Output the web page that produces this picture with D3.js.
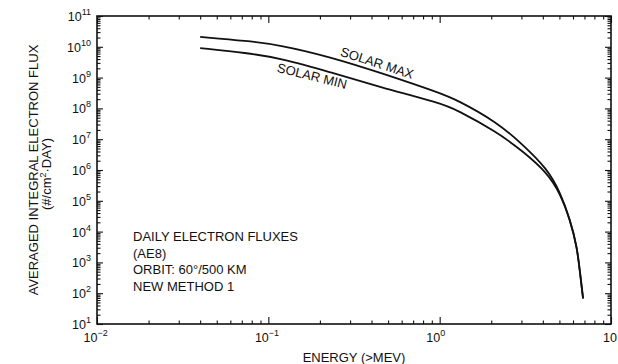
<!DOCTYPE html>
<html>
<head>
<meta charset="utf-8">
<script src="https://cdn.jsdelivr.net/npm/d3@7/dist/d3.min.js"></script>
<style>
  html, body { margin: 0; padding: 0; background: #fff; }
  svg { display: block; }
  text { font-family: "Liberation Sans", Arial, Helvetica, sans-serif; fill: #111; }
</style>
</head>
<body>
<svg id="chart" width="618" height="364"></svg>
<script>
// Integral electron flux (AE8), daily average, 60°/500 km orbit
const energy  = [0.04, 0.075, 0.117, 0.23, 0.45, 1.0, 1.26, 2.16, 3.07, 4.24, 5.05, 5.77, 6.34, 6.6, 6.87];
const fluxMax = [2.1e10, 1.55e10, 1.15e10, 4.7e9, 1.45e9, 3.2e8, 1.9e8, 3.6e7, 6.5e6, 1.1e6, 1.9e5, 2.5e4, 3.2e3, 4.5e2, 70];
const fluxMin = [9.1e9, 6.3e9, 4.3e9, 1.5e9, 4.9e8, 1.5e8, 9.0e7, 1.7e7, 4.0e6, 8.2e5, 1.75e5, 2.4e4, 3.1e3, 4.3e2, 66];

const seriesNames = ["SOLAR MAX", "SOLAR MIN"];
const xTickExps = ["\u22122", "\u22121", "0", ""];
const xTickVals = [1e-2, 1e-1, 1, 10];
const yTickExps = ["1", "2", "3", "4", "5", "6", "7", "8", "9", "10", "11"];
const noteLines = ["DAILY ELECTRON FLUXES", "(AE8)", "ORBIT: 60\u00b0/500 KM", "NEW METHOD 1"];

const svg = d3.select("#chart");
const plotLeft = 97, plotRight = 611, plotTop = 16, plotBottom = 324;

const x = d3.scaleLog().domain([1e-2, 10]).range([plotLeft, plotRight]);
const y = d3.scaleLog().domain([10, 1e11]).range([plotBottom, plotTop]);

// minor tick positions (2..9 in every decade)
const xMinor = [];
for (let e = -2; e < 1; e++) for (let m = 2; m <= 9; m++) xMinor.push(m * Math.pow(10, e));
const yMinor = [];
for (let e = 1; e < 11; e++) for (let m = 2; m <= 9; m++) yMinor.push(m * Math.pow(10, e));
const yMajor = yTickExps.map(s => Math.pow(10, +s));

function tickLayer(axisFn, scale, values, size, transform) {
  const g = svg.append("g").attr("transform", transform)
    .call(axisFn(scale).tickValues(values).tickSize(-size).tickSizeOuter(0).tickFormat(""));
  g.select(".domain").remove();
  g.selectAll(".tick line").attr("stroke", "#111").attr("stroke-width", 1.1);
  return g;
}

// ticks pointing inward on all four sides
tickLayer(d3.axisBottom, x, xMinor, 3.5, `translate(0,${plotBottom})`);
tickLayer(d3.axisBottom, x, xTickVals, 7, `translate(0,${plotBottom})`);
tickLayer(d3.axisTop, x, xMinor, 3.5, `translate(0,${plotTop})`);
tickLayer(d3.axisTop, x, xTickVals, 7, `translate(0,${plotTop})`);
tickLayer(d3.axisLeft, y, yMinor, 3.5, `translate(${plotLeft},0)`);
tickLayer(d3.axisLeft, y, yMajor, 6, `translate(${plotLeft},0)`);
tickLayer(d3.axisRight, y, yMinor, 3.5, `translate(${plotRight},0)`);
tickLayer(d3.axisRight, y, yMajor, 6, `translate(${plotRight},0)`);

// frame
svg.append("rect")
  .attr("x", plotLeft).attr("y", plotTop)
  .attr("width", plotRight - plotLeft).attr("height", plotBottom - plotTop)
  .attr("fill", "none").attr("stroke", "#111").attr("stroke-width", 1.6);

// y tick labels: 10 with exponent
const yLab = svg.append("g");
yTickExps.forEach(ex => {
  const v = Math.pow(10, +ex);
  const t = yLab.append("text")
    .attr("x", 91).attr("y", y(v) + 5)
    .attr("text-anchor", "end")
    .style("font-size", "12.5px");
  t.append("tspan").text("10");
  t.append("tspan").attr("dy", -6).style("font-size", "9px").text(ex);
});

// x tick labels: "10" ends at the tick, exponent follows
xTickVals.forEach((v, i) => {
  const px = x(v);
  const last = i === xTickVals.length - 1;
  svg.append("text")
    .attr("x", last ? 617 : px + 0.5).attr("y", 342)
    .attr("text-anchor", "end")
    .style("font-size", "12.5px")
    .text("10");
  if (xTickExps[i]) {
    svg.append("text")
      .attr("x", px + 0.5).attr("y", 336)
      .attr("text-anchor", "start")
      .style("font-size", "9px")
      .text(xTickExps[i]);
  }
});

// axis titles
svg.append("text")
  .attr("x", (plotLeft + plotRight) / 2).attr("y", 362)
  .attr("text-anchor", "middle")
  .style("font-size", "13px")
  .text("ENERGY (>MEV)");

const yt = svg.append("g").attr("transform", "translate(38,170) rotate(-90)");
yt.append("text").attr("text-anchor", "middle").style("font-size", "13px")
  .text("AVERAGED INTEGRAL ELECTRON FLUX");
const yt2 = svg.append("g").attr("transform", "translate(51,174) rotate(-90)")
  .append("text").attr("text-anchor", "middle").style("font-size", "13px");
yt2.append("tspan").text("(#/cm");
yt2.append("tspan").attr("dy", -5).style("font-size", "9px").text("2");
yt2.append("tspan").attr("dy", 5).text("\u00b7DAY)");

// curves (B-spline through the read-off points)
const line = d3.line()
  .x(d => x(d[0]))
  .y(d => y(d[1]))
  .curve(d3.curveBasis);

[fluxMax, fluxMin].forEach(vals => {
  svg.append("path")
    .datum(energy.map((e, i) => [e, vals[i]]))
    .attr("d", line)
    .attr("fill", "none")
    .attr("stroke", "#111")
    .attr("stroke-width", 1.8)
    .attr("stroke-linejoin", "round");
});

// curve labels
svg.append("text")
  .attr("transform", "translate(377,63) rotate(18)")
  .attr("text-anchor", "middle").attr("dominant-baseline", "central")
  .style("font-size", "13px")
  .text(seriesNames[0]);
svg.append("text")
  .attr("transform", "translate(312,76) rotate(14)")
  .attr("text-anchor", "middle").attr("dominant-baseline", "central")
  .style("font-size", "13px")
  .text(seriesNames[1]);

// note block
const note = svg.append("text").style("font-size", "13px");
noteLines.forEach((s, i) => {
  note.append("tspan").attr("x", 133).attr("y", 241 + i * 16.7).text(s);
});
</script>
</body>
</html>
